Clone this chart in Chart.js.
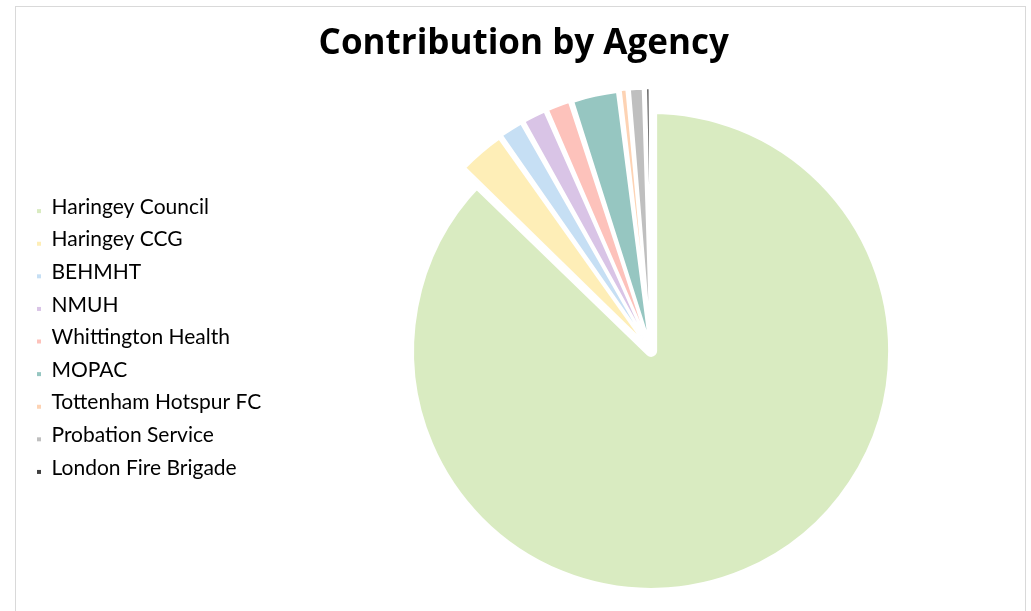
<!DOCTYPE html>
<html>
<head>
<meta charset="utf-8">
<script src="https://cdn.jsdelivr.net/npm/chart.js@4"></script>
<style>
  html, body { margin: 0; padding: 0; background: #fff; }
  #wrap { position: relative; width: 1031px; height: 611px; overflow: hidden; }
  #frame { position: absolute; left: 15px; top: 6px; width: 1009px; height: 640px; border: 1px solid #d9d9d9; }
  #myChart { position: absolute; left: 0; top: 0; }
</style>
</head>
<body>
<div id="wrap">
  <div id="frame"></div>
  <canvas id="myChart" width="1031" height="611"></canvas>
</div>
<script>
const agencies = [
  'Haringey Council',
  'Haringey CCG',
  'BEHMHT',
  'NMUH',
  'Whittington Health',
  'MOPAC',
  'Tottenham Hotspur FC',
  'Probation Service',
  'London Fire Brigade'
];
const contribution = [87.2, 3.0, 1.6, 1.6, 1.6, 3.0, 0.55, 1.0, 0.4];
const sliceColours = ['#d9ebc1', '#feeeb7', '#c6dff4', '#d9c4e6', '#fdc2bb', '#96c6c1', '#fdd3b4', '#bfbfbf', '#404040'];

// small square legend swatch, sitting low like the Excel legend
function swatch(colour) {
  const c = document.createElement('canvas');
  c.width = 16;
  c.height = 22;
  const g = c.getContext('2d');
  g.fillStyle = colour;
  g.fillRect(12, 13, 4, 4);
  return c;
}
const swatches = sliceColours.map(swatch);

const ctx = document.getElementById('myChart').getContext('2d');

new Chart(ctx, {
  type: 'pie',
  data: {
    labels: agencies,
    datasets: [{
      data: contribution,
      backgroundColor: sliceColours,
      borderColor: '#ffffff',
      borderWidth: contribution.map((v, i) => i === 0 ? 12 : 2),
      borderJoinStyle: 'round',
      offset: contribution.map((v, i) => i === 0 ? 0 : 40),
      radius: 243
    }]
  },
  options: {
    responsive: false,
    animation: false,
    layout: {
      padding: { left: 13.4, right: -3, top: 0, bottom: 0 }
    },
    plugins: {
      title: {
        display: true,
        text: 'Contribution by Agency',
        color: '#000',
        font: { family: 'Open Sans', size: 35, weight: 'bold' },
        padding: { top: 23, bottom: 25.8 }
      },
      legend: {
        position: 'left',
        title: {
          display: true,
          text: '',
          font: { size: 10 },
          padding: { top: 52, bottom: 0 }
        },
        labels: {
          color: '#000',
          font: { family: 'Lato', size: 21 },
          usePointStyle: true,
          pointStyleWidth: 16,
          padding: 11.6,
          generateLabels: () => agencies.map((name, i) => ({
            text: name,
            fillStyle: sliceColours[i],
            strokeStyle: sliceColours[i],
            lineWidth: 0,
            pointStyle: swatches[i],
            fontColor: '#000',
            hidden: false,
            index: i
          }))
        }
      },
      tooltip: { enabled: false }
    }
  }
});
</script>
</body>
</html>
